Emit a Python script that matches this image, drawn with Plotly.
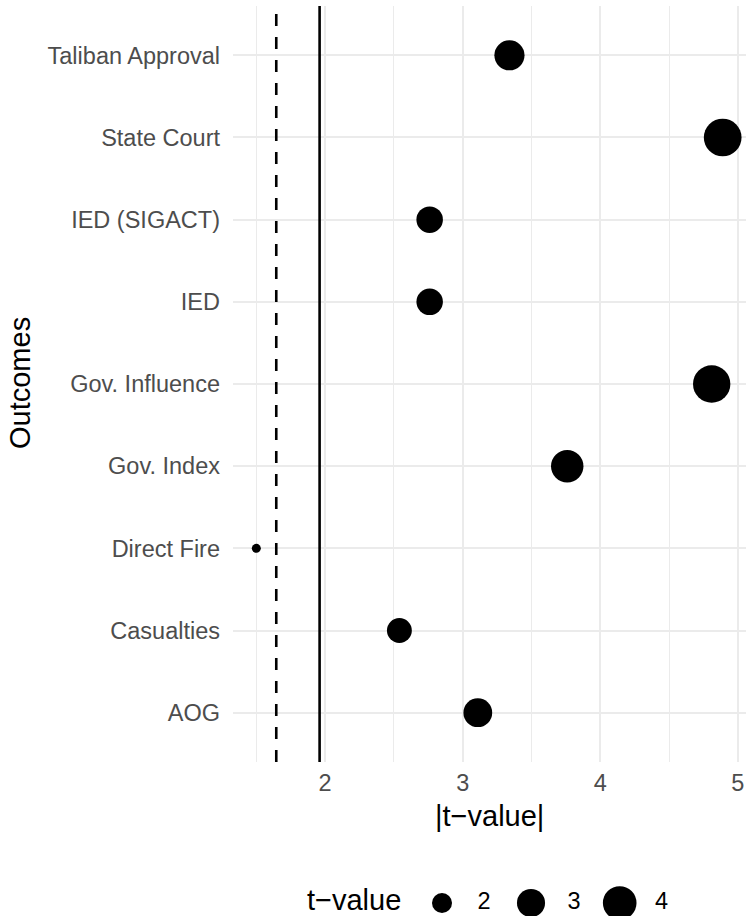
import numpy as np
import plotly.graph_objects as go

# ---- data ----
outcomes = ["Taliban Approval", "State Court", "IED (SIGACT)", "IED",
            "Gov. Influence", "Gov. Index", "Direct Fire", "Casualties", "AOG"]
t_values = [3.34, 4.89, 2.76, 2.76, 4.81, 3.76, 1.50, 2.54, 3.11]
thresholds_dashed = [1.645]
thresholds_solid = [1.96]
legend_values = [2, 3, 4]
x_ticks = [2, 3, 4, 5]

W, H = 746, 916
PL, PR, PT, PB = 233, 746, 6, 762  # panel box in px

tmin, tmax = min(t_values), max(t_values)


def diam(t):
    return 9 + 28.7 * np.sqrt(max(t - tmin, 0) / (tmax - tmin))


span = tmax - tmin
xr = [tmin - 0.05 * span, tmax + 0.05 * span]

FONT = "Liberation Sans, Arial, Helvetica, sans-serif"
GRID = "#EBEBEB"

fig = go.Figure()
fig.add_trace(go.Scatter(
    x=t_values, y=outcomes, mode="markers",
    marker=dict(color="black", opacity=1, size=[diam(t) for t in t_values], line=dict(width=0)),
    cliponaxis=False, showlegend=False, hoverinfo="x+y"))

# legend keys (manual, ggplot style)
leg_x = [442, 531, 619.7]
leg_lab_x = [484, 574, 661.5]
fig.add_trace(go.Scatter(
    x=leg_x, y=[0.5] * 3, xaxis="x2", yaxis="y2", mode="markers",
    marker=dict(color="black", opacity=1, size=[diam(v) for v in legend_values], line=dict(width=0)),
    cliponaxis=False, showlegend=False, hoverinfo="skip"))
fig.add_trace(go.Scatter(
    x=leg_lab_x, y=[0.5] * 3, xaxis="x2", yaxis="y2", mode="text",
    text=[str(v) for v in legend_values],
    textfont=dict(family=FONT, size=23.5, color="black"),
    cliponaxis=False, showlegend=False, hoverinfo="skip"))

shapes = []
for v in thresholds_dashed:
    shapes.append(dict(type="line", xref="x", yref="paper", x0=v, x1=v,
                       y0=(H - PB) / H, y1=(H - PT) / H,
                       line=dict(color="black", width=2.6, dash="12px,11px")))
for v in thresholds_solid:
    shapes.append(dict(type="line", xref="x", yref="paper", x0=v, x1=v,
                       y0=(H - PB) / H, y1=(H - PT) / H,
                       line=dict(color="black", width=2.6)))

fig.update_layout(
    width=W, height=H,
    margin=dict(l=0, r=0, t=0, b=0),
    paper_bgcolor="white", plot_bgcolor="white",
    font=dict(family=FONT),
    shapes=shapes,
    xaxis=dict(domain=[PL / W, PR / W], range=xr, tickvals=x_ticks,
               ticktext=[str(v) for v in x_ticks],
               showgrid=True, gridcolor=GRID, gridwidth=2,
               minor=dict(dtick=0.5, tick0=0, showgrid=True, gridcolor=GRID, gridwidth=1),
               zeroline=False, showline=False, ticks="",
               tickfont=dict(family=FONT, size=23.5, color="#4D4D4D"),
               ticklabelstandoff=4, anchor="y"),
    yaxis=dict(domain=[(H - PB) / H, (H - PT) / H], type="category",
               categoryorder="array", categoryarray=outcomes,
               range=[len(outcomes) - 1 + 0.6, -0.6],
               showgrid=True, gridcolor=GRID, gridwidth=2,
               zeroline=False, showline=False, ticks="",
               tickfont=dict(family=FONT, size=23.5, color="#4D4D4D"),
               ticklabelstandoff=12, anchor="x"),
    xaxis2=dict(domain=[0, 1], range=[0, W], visible=False, anchor="y2"),
    yaxis2=dict(domain=[0, 26 / H], range=[0, 1], visible=False, anchor="x2"),
    annotations=[
        dict(text="|t\u2212value|", xref="paper", yref="paper",
             x=(PL + PR) / 2 / W, y=1 - 816 / H, xanchor="center", yanchor="middle",
             showarrow=False, font=dict(family=FONT, size=29, color="black")),
        dict(text="Outcomes", xref="paper", yref="paper", textangle=-90,
             x=20 / W, y=1 - 383 / H, xanchor="center", yanchor="middle",
             showarrow=False, font=dict(family=FONT, size=29, color="black")),
        dict(text="t\u2212value", xref="paper", yref="paper",
             x=306 / W, y=1 - 900 / H, xanchor="left", yanchor="middle",
             borderpad=0,
             showarrow=False, font=dict(family=FONT, size=29, color="black")),
    ],
)

fig.write_html("out.html", config={"displayModeBar": False},
               post_script="document.body.style.margin='0';document.body.style.overflow='hidden';")
